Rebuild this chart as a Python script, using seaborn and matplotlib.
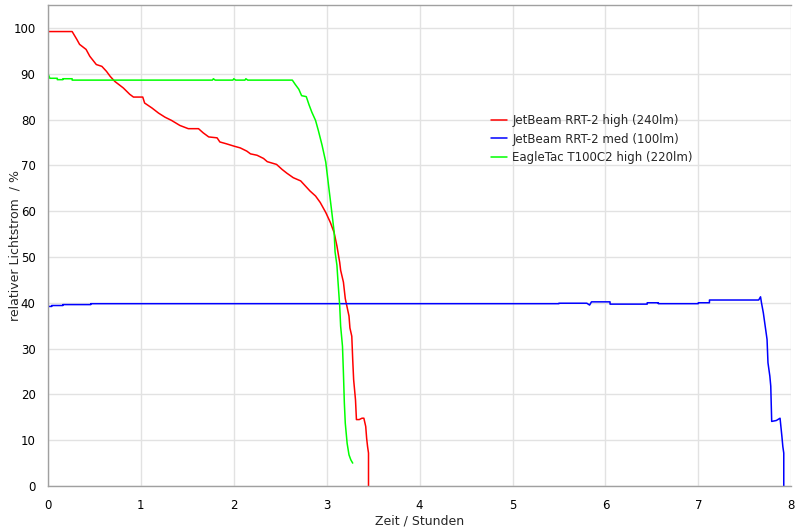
import numpy as np
import pandas as pd
import matplotlib
matplotlib.use("Agg")
import matplotlib.pyplot as plt
import seaborn as sns
from matplotlib.ticker import MultipleLocator

# --- Data (time in hours, relative luminous flux in %) ---
red_t = [0.0, 0.0, 0.26, 0.31, 0.34, 0.41, 0.45, 0.52, 0.58, 0.63, 0.67, 0.72, 0.81, 0.88, 0.92,
         1.02, 1.04, 1.12, 1.19, 1.26, 1.33, 1.42, 1.51, 1.62, 1.67, 1.73, 1.82, 1.85, 1.92, 2.0,
         2.07, 2.14, 2.18, 2.25, 2.32, 2.36, 2.46, 2.52, 2.57, 2.64, 2.72, 2.77, 2.82, 2.88, 2.93,
         2.99, 3.04, 3.08, 3.11, 3.14, 3.15, 3.18, 3.20, 3.24, 3.25, 3.27, 3.28, 3.29, 3.31, 3.32,
         3.35, 3.38, 3.40, 3.42, 3.43, 3.44, 3.45, 3.45]
red_v = [100.0, 99.2, 99.2, 97.5, 96.4, 95.3, 93.8, 92.0, 91.6, 90.5, 89.4, 88.3, 86.9, 85.5, 84.9,
         84.9, 83.6, 82.5, 81.4, 80.5, 79.8, 78.7, 78.0, 78.0, 77.1, 76.2, 76.0, 75.1, 74.7, 74.2,
         73.8, 73.1, 72.5, 72.2, 71.5, 70.8, 70.2, 69.1, 68.3, 67.3, 66.6, 65.5, 64.4, 63.3, 61.9,
         59.7, 57.5, 55.3, 52.4, 48.8, 47.1, 44.5, 40.9, 37.1, 34.5, 32.7, 27.6, 23.2, 18.8, 14.5,
         14.5, 14.8, 14.8, 13.0, 10.4, 8.6, 7.2, 0.0]

blue_t = [0.0, 0.04, 0.04, 0.16, 0.16, 0.46, 0.46, 5.5, 5.5, 5.8, 5.83, 5.85, 6.05, 6.05, 6.45,
          6.45, 6.57, 6.57, 7.0, 7.0, 7.12, 7.12, 7.65, 7.67, 7.68, 7.70, 7.72, 7.74, 7.75, 7.77,
          7.78, 7.79, 7.84, 7.88, 7.90, 7.91, 7.92, 7.92]
blue_v = [39.2, 39.2, 39.4, 39.4, 39.6, 39.6, 39.8, 39.8, 39.9, 39.9, 39.5, 40.2, 40.2, 39.7, 39.7,
          40.0, 40.0, 39.8, 39.8, 40.0, 40.0, 40.6, 40.6, 41.3, 40.0, 37.8, 34.9, 32.0, 26.9, 24.0,
          21.8, 14.1, 14.3, 14.8, 10.8, 8.6, 7.2, 0.0]

green_t = [0.0, 0.02, 0.10, 0.10, 0.16, 0.16, 0.26, 0.26, 1.77, 1.78, 1.80, 1.99, 2.0, 2.02,
           2.12, 2.13, 2.15, 2.63, 2.66, 2.70, 2.73, 2.78, 2.81, 2.84, 2.88, 2.91, 2.95, 2.99, 3.02,
           3.05, 3.08, 3.09, 3.11, 3.12, 3.14, 3.15, 3.17, 3.18, 3.19, 3.20, 3.22, 3.24, 3.26, 3.28]
green_v = [90.0, 89.0, 89.0, 88.7, 88.7, 88.9, 88.9, 88.6, 88.6, 88.9, 88.6, 88.6, 88.9, 88.6,
           88.6, 88.9, 88.6, 88.6, 87.7, 86.6, 85.2, 85.0, 83.2, 81.6, 79.8, 77.6, 74.4, 70.7, 65.6,
           60.6, 55.5, 51.1, 48.2, 45.1, 39.3, 34.9, 30.5, 24.7, 18.1, 13.7, 9.3, 6.8, 5.7, 5.0]

labels = ["JetBeam RRT-2 high (240lm)", "JetBeam RRT-2 med (100lm)", "EagleTac T100C2 high (220lm)"]
colors = ["#ff0000", "#0000ff", "#00ff00"]

sns.set_theme(style="white")
plt.rcParams['font.family'] = ['DejaVu Sans']

fig = plt.figure(figsize=(8, 5.3), dpi=100)
ax = fig.add_axes([0.06, 0.083, 0.929, 0.9076])

for t, v, lab, col in zip([red_t, blue_t, green_t], [red_v, blue_v, green_v], labels, colors):
    df = pd.DataFrame({"t": t, "v": v})
    sns.lineplot(data=df, x="t", y="v", sort=False, estimator=None, color=col,
                 linewidth=1.1, label=lab, ax=ax)

ax.set_xlim(0, 8)
ax.set_ylim(0, 105)
ax.xaxis.set_major_locator(MultipleLocator(1))
ax.xaxis.set_minor_locator(MultipleLocator(0.5))
ax.yaxis.set_major_locator(MultipleLocator(10))
ax.yaxis.set_minor_locator(MultipleLocator(5))
ax.grid(True, which="major", color="#e2e2e2", linewidth=1)
ax.tick_params(which="both", direction="out", length=4, width=1, color="#a0a0a0",
               labelsize=8.5, labelcolor="black", pad=5)

for side in ["left", "bottom", "top"]:
    ax.spines[side].set_color("#a0a0a0")
    ax.spines[side].set_linewidth(1)
ax.spines["right"].set_visible(False)

ax.set_xlabel("Zeit / Stunden", fontsize=9, labelpad=2)
ax.set_ylabel("relativer Lichtstrom  / %", fontsize=9)
ax.yaxis.set_label_coords(-0.036, 0.5)

ax.legend(loc="upper left", bbox_to_anchor=(0.582, 0.795), frameon=False, fontsize=8.5,
          handlelength=1.3, handletextpad=0.5, labelspacing=0.45)

fig.savefig("out.png", dpi=100)
